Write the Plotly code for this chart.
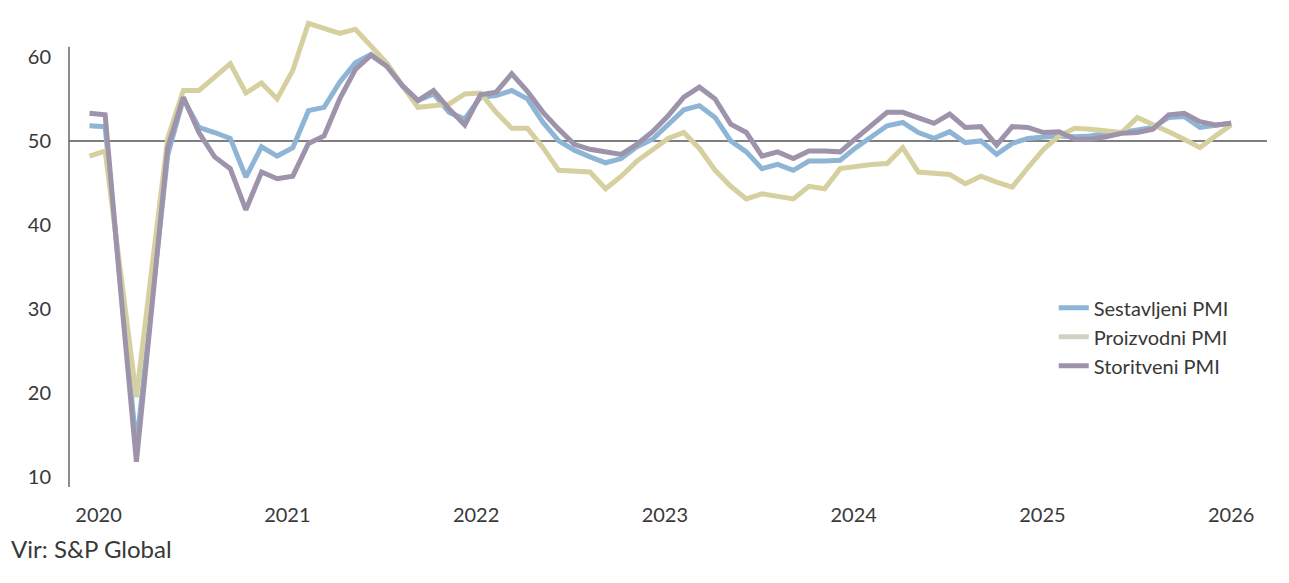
import plotly.graph_objects as go

# Months Jan 2020 .. Feb 2026 (index 0..73)
months = list(range(74))

sestavljeni = [51.8, 51.7, 32.6, 13.6, 31.0, 48.3, 55.0, 51.6, 51.0, 50.3, 45.7, 49.3,
               48.2, 49.2, 53.6, 54.0, 57.0, 59.3, 60.3, 59.0, 56.6, 54.8, 55.6, 53.4,
               52.6, 55.2, 55.4, 56.0, 55.0, 52.2, 50.0, 48.9, 48.1, 47.4, 47.9, 49.3,
               50.2, 52.0, 53.7, 54.2, 52.8, 50.0, 48.7, 46.7, 47.2, 46.5, 47.6, 47.6,
               47.7, 49.2, 50.5, 51.8, 52.2, 51.0, 50.3, 51.1, 49.8, 50.0, 48.4, 49.7,
               50.3, 50.5, 50.6, 50.5, 50.6, 50.9, 51.0, 51.3, 51.6, 52.8, 52.9, 51.6,
               51.8, 52.1]

proizvodni = [48.2, 48.8, 34.2, 19.5, 35.0, 50.3, 56.0, 56.0, 57.6, 59.2, 55.7, 56.9,
              55.0, 58.4, 64.0, 63.4, 62.8, 63.3, 61.3, 59.3, 56.6, 54.0, 54.2, 54.4,
              55.6, 55.7, 53.4, 51.5, 51.5, 49.2, 46.5, 46.4, 46.3, 44.3, 45.8, 47.6,
              49.0, 50.3, 51.0, 49.1, 46.5, 44.6, 43.1, 43.7, 43.4, 43.1, 44.6, 44.3,
              46.7, 47.0, 47.2, 47.3, 49.2, 46.3, 46.1, 46.0, 44.9, 45.8, 45.1, 44.5,
              46.8, 49.0, 50.6, 51.5, 51.4, 51.2, 51.0, 52.8, 52.0, 51.1, 50.2, 49.2,
              50.6, 51.9]

storitveni = [53.3, 53.1, 32.0, 11.8, 30.5, 49.2, 55.2, 51.0, 48.1, 46.7, 41.8, 46.3,
              45.5, 45.8, 49.7, 50.6, 55.0, 58.5, 60.2, 58.9, 56.6, 54.8, 56.0, 53.8,
              51.9, 55.5, 55.8, 58.0, 55.9, 53.4, 51.4, 49.6, 49.0, 48.7, 48.4, 49.6,
              51.1, 53.0, 55.2, 56.4, 55.0, 52.0, 51.0, 48.2, 48.7, 47.9, 48.8, 48.8,
              48.7, 50.3, 51.8, 53.4, 53.4, 52.8, 52.1, 53.2, 51.6, 51.7, 49.5, 51.7,
              51.6, 51.0, 51.1, 50.2, 50.2, 50.5, 50.9, 51.0, 51.4, 53.1, 53.3, 52.3,
              51.9, 52.1]

series_names = ["Sestavljeni PMI", "Proizvodni PMI", "Storitveni PMI"]
line_colors = ["#8fb5d6", "#d6d0a0", "#9d93ab"]
legend_colors = ["#8fb5d6", "#cdd4c4", "#9d93ab"]

year_labels = ["2020", "2021", "2022", "2023", "2024", "2025", "2026"]
y_ticks = [10, 20, 30, 40, 50, 60]
axis_min, axis_top = 8.8, 61.2

font_family = "Lato"
text_color = "#383838"

fig = go.Figure()
for name, vals, col in zip(series_names, [sestavljeni, proizvodni, storitveni], line_colors):
    fig.add_trace(go.Scatter(x=months, y=vals, mode="lines", name=name, showlegend=False,
                             line=dict(color=col, width=5), hoverinfo="skip"))
for name, col in zip(series_names, legend_colors):
    fig.add_trace(go.Scatter(x=[None], y=[None], mode="lines", name=name,
                             line=dict(color=col, width=5)))

# year tick positions (labels sit slightly offset from January points, as in the source)
first_tick, last_tick = 0.58, 73.0
step = (last_tick - first_tick) / (len(year_labels) - 1)
tickvals = [first_tick + i * step for i in range(len(year_labels))]

fig.add_shape(type="line", xref="paper", yref="y", x0=0, x1=1, y0=50, y1=50,
              line=dict(color="#555555", width=1.5), layer="below")
fig.add_shape(type="line", xref="paper", yref="y", x0=0, x1=0, y0=axis_min, y1=axis_top,
              line=dict(color="#666666", width=1.5), layer="below")

plot_top_px, plot_bottom_px = 15, 487
y_top = axis_min + (plot_bottom_px - plot_top_px) / 8.4

fig.update_layout(
    width=1289, height=583,
    margin=dict(l=69, r=22, t=plot_top_px, b=583 - plot_bottom_px),
    paper_bgcolor="white", plot_bgcolor="white",
    font=dict(family=font_family, size=20, color=text_color, weight=400),
    xaxis=dict(range=[-1.31, 75.29], tickvals=tickvals, ticktext=year_labels,
               showgrid=False, zeroline=False, showline=False, ticks="",
               ticklabelstandoff=14, tickfont=dict(size=20)),
    yaxis=dict(range=[axis_min, y_top], tickvals=y_ticks, showgrid=False, zeroline=False,
               showline=False, ticks="", ticklabelstandoff=17, tickfont=dict(size=20)),
    legend=dict(x=0.822, y=0.421, xanchor="left", yanchor="top",
                bgcolor="rgba(0,0,0,0)", font=dict(size=20), tracegroupgap=0),
    annotations=[dict(text="Vir: S&P Global", xref="paper", yref="paper",
                      x=(9 - 69) / 1198, y=(plot_bottom_px - 548) / (plot_bottom_px - plot_top_px),
                      xanchor="left", yanchor="middle", showarrow=False, font=dict(size=24))],
)

fig.write_html("out.html")
